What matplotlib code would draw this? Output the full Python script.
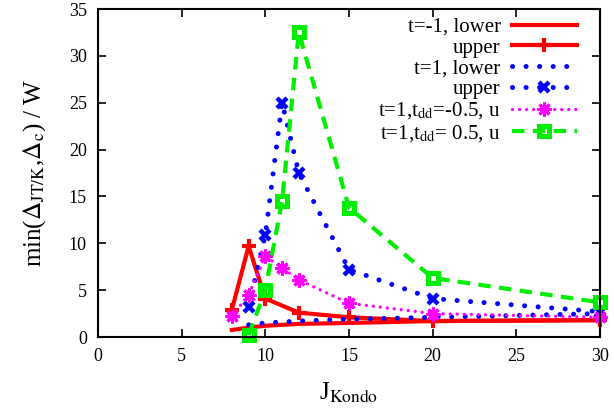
import matplotlib
matplotlib.use("Agg")
import matplotlib.pyplot as plt

plt.rcParams['font.family'] = ['Liberation Serif', 'DejaVu Serif']
plt.rcParams['mathtext.fontset'] = 'stix'

x_red_lower = [8, 9, 10, 12, 15, 20, 30]
y_red_lower = [0.75, 1.0, 1.2, 1.4, 1.5, 1.7, 1.8]

x_red_upper = [8, 9, 10, 12, 15, 20, 30]
y_red_upper = [2.9, 9.7, 4.1, 2.6, 2.1, 1.7, 1.8]

x_blue_lower = [9, 10, 12, 15, 20, 30]
y_blue_lower = [1.3, 1.5, 1.7, 1.9, 2.1, 2.5]

x_blue_upper = [9, 10, 11, 12, 15, 20, 30]
y_blue_upper = [3.2, 10.9, 25.0, 17.5, 7.2, 4.1, 2.7]

x_mag = [8, 9, 10, 11, 12, 15, 20, 30]
y_mag = [2.2, 4.5, 8.6, 7.4, 6.1, 3.6, 2.5, 2.1]

x_green = [9, 10, 11, 12, 15, 20, 30]
y_green = [0.2, 5.0, 14.5, 32.5, 13.8, 6.3, 3.7]

fig = plt.figure(figsize=(6.14, 4.13), dpi=100)
ax = fig.add_axes([98/614, 1-337/413, (600-98)/614, (337-9)/413])

common = dict(clip_on=False)
ax.plot(x_red_lower, y_red_lower, color='#ff0000', lw=3, label='t=-1, lower', **common)
ax.plot(x_red_upper, y_red_upper, color='#ff0000', lw=3, marker='+', ms=10, mew=3,
        label='upper', **common)
ax.plot(x_blue_lower, y_blue_lower, color='#0000ff', lw=3.6, ls=(0, (0.01, 2.7)),
        dash_capstyle='round', label='t=1, lower', **common)
ax.plot(x_blue_upper, y_blue_upper, color='#0000ff', lw=3.6, ls=(0, (0.01, 2.7)),
        dash_capstyle='round', marker='x', ms=7.5, mew=3.2, label='upper', **common)
ax.plot(x_mag, y_mag, color='#ff00ff', lw=2.4, ls=(0, (0.01, 2.1)),
        dash_capstyle='round', marker=(8, 2, 0), ms=10, mew=2.2,
        label=r't=1,t$_{\rm dd}$=-0.5, u', **common)
ax.plot(x_green, y_green, color='#00ee00', lw=3, ls=(0, (3, 2)),
        marker='s', ms=7, mfc='none', mew=3.6,
        label=r't=1,t$_{\rm dd}$= 0.5, u', **common)

ax.set_xlim(0, 30)
ax.set_ylim(0, 35)
ax.set_xticks(range(0, 31, 5))
ax.set_yticks(range(0, 36, 5))
ax.tick_params(direction='in', top=True, right=True, labelsize=13, length=6,
               width=1.2, pad=8)
for s in ax.spines.values():
    s.set_linewidth(1.5)

ax.set_xlabel(r'J$_{\rm Kondo}$', fontsize=18, labelpad=11)
ax.set_ylabel(r'min($\Delta_{\rm JT/K}$,$\Delta_{\rm c}$) / W', fontsize=18, labelpad=15)

leg = ax.legend(loc='upper right', bbox_to_anchor=(0.966, 0.994), frameon=False,
                markerfirst=False, fontsize=15, handlelength=3.1, labelspacing=0.06,
                borderaxespad=0.0, handletextpad=0.55, borderpad=0.3)
for t in leg.get_texts():
    t.set_ha('right')
leg._legend_box.align = 'right'

fig.savefig('out.png', dpi=100)
